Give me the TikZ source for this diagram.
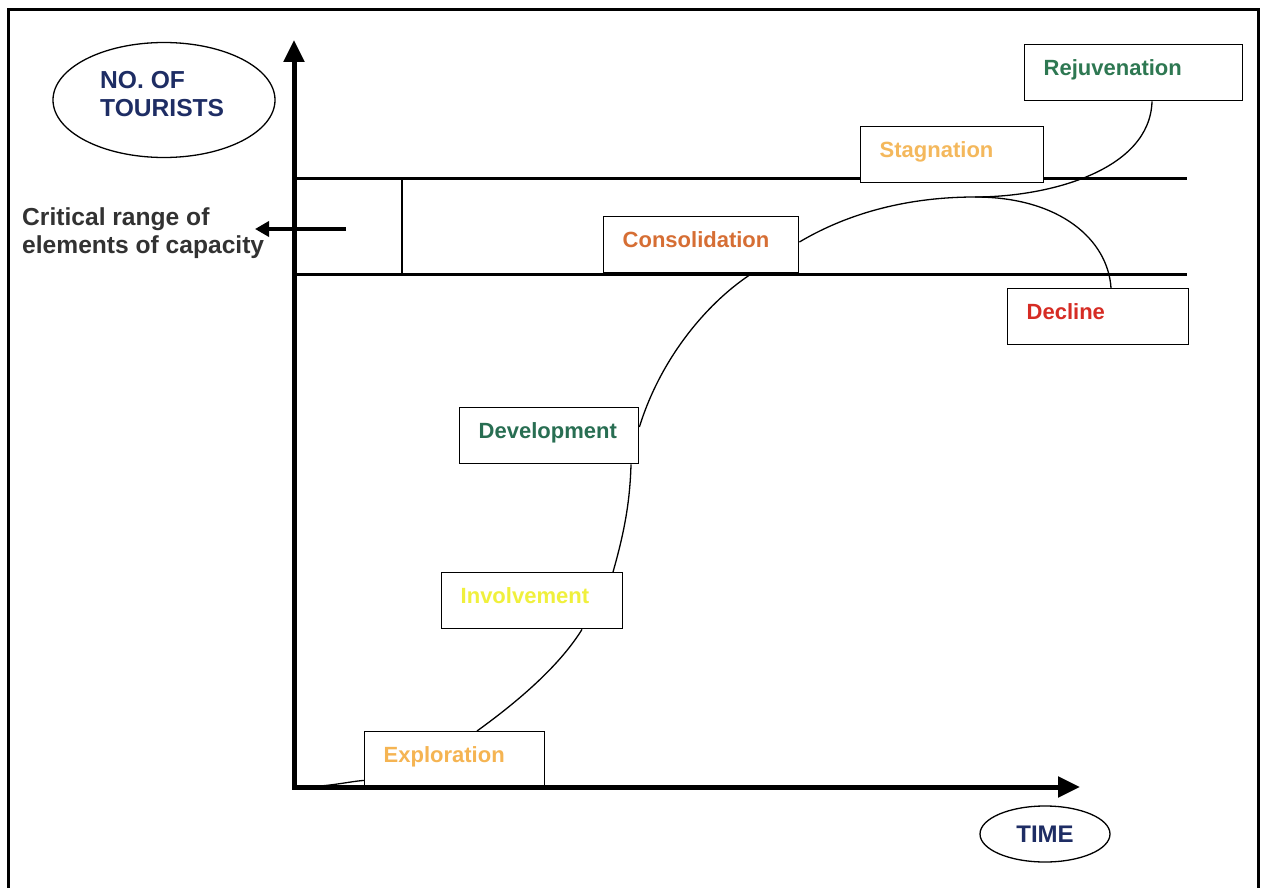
\documentclass[tikz,border=0pt]{standalone}
\usepackage{fontspec}
\setmainfont{Liberation Sans}
\usetikzlibrary{shapes.geometric,arrows.meta,calc}
\definecolor{navy}{RGB}{30,45,100}
\definecolor{txtgray}{RGB}{50,50,50}
\definecolor{cRejuv}{RGB}{46,120,82}
\definecolor{cStag}{RGB}{244,184,92}
\definecolor{cConsol}{RGB}{214,110,52}
\definecolor{cDecl}{RGB}{214,44,36}
\definecolor{cDevel}{RGB}{40,110,82}
\definecolor{cInvol}{RGB}{240,240,60}
\definecolor{cExplo}{RGB}{245,180,82}
\begin{document}
\begin{tikzpicture}[x=1pt,y=-1pt,
  stagebox/.style={draw, line width=1.4pt, fill=white, anchor=north west,
    inner xsep=19pt, inner ysep=0pt, text height=31pt, text depth=25pt,
    align=left, font=\fontsize{22}{26}\selectfont\bfseries},
  bigtext/.style={font=\fontsize{24.6}{28}\selectfont\bfseries, inner sep=0pt, align=left},
  oval/.style={draw, ellipse, line width=1.3pt, inner sep=0pt},
  curve/.style={line width=1.3pt}
]
\useasboundingbox (0,0) rectangle (1266,888);

% outer frame
\draw[line width=3pt] (8,890) -- (8,10) -- (1258,10) -- (1258,890);

% capacity range lines
\coordinate (ua) at (294,178);
\coordinate (ub) at (1187,178);
\coordinate (la) at (294,274);
\coordinate (lb) at (1187,274);
\coordinate (va) at (402,178);
\coordinate (vb) at (402,274);
\draw[line width=3pt] (ua) -- (ub);
\draw[line width=3pt] (la) -- (lb);
\draw[line width=1.3pt] (va) -- (vb);

% labels at left
\node[oval, minimum width=222pt, minimum height=115pt] (tourell) at (164,100) {};
\node[bigtext, text=navy, anchor=west] (tourtxt) at (100,94) {NO. OF\\TOURISTS};
\node[bigtext, text=txtgray, anchor=west] (crit) at (22,233) {Critical range of\\elements of capacity};
\coordinate (arrtail) at (346,229);
\coordinate (arrtip) at (255,229);
\draw[line width=4pt, -{Triangle[width=15pt,length=14pt]}] (arrtail) -- (arrtip);

% stage boxes
\node[stagebox, text width=180pt, text=cRejuv] (rejuv) at (1024,44) {Rejuvenation};
\node[stagebox, text width=145pt, text=cStag] (stag) at (860,126) {Stagnation};
\node[stagebox, text width=157pt, text=cConsol] (consol) at (603,216) {Consolidation};
\node[stagebox, text width=143pt, text=cDecl] (decl) at (1007,288) {Decline};
\node[stagebox, text width=141pt, text=cDevel] (devel) at (459,407) {Development};
\node[stagebox, text width=143pt, text=cInvol] (invol) at (441,572) {Involvement};
\node[stagebox, text width=142pt, text=cExplo] (explo) at (364,731) {Exploration};

% the life-cycle curve
\coordinate (O) at (294,787);
\coordinate (peak) at (975,197);
\draw[curve] (O) .. controls (330,787) and (345,782) .. ($(explo.south west)+(0,-8)$);
\draw[curve] ($(explo.north west)+(113,0)$) .. controls (520,700) and (560,665) .. ($(invol.south west)+(141,0)$);
\draw[curve] ($(invol.north west)+(172,0)$) .. controls (625,530) and (630,500) .. ($(devel.south west)+(172,0)$);
\draw[curve] ($(devel.north east)+(0,20)$) .. controls (660,360) and (705,305) .. ($(consol.south west)+(146,2)$);
\draw[curve] ($(consol.north east)+(0,26)$) .. controls (850,212) and (910,197) .. (peak)
   .. controls (1050,197) and (1150,170) .. ($(rejuv.south west)+(128,0)$);
\draw[curve] (peak) .. controls (1060,197) and (1108,240) .. ($(decl.north west)+(104,0)$);

% axes
\coordinate (xtip) at (1080,787);
\coordinate (ytip) at (294,40);
\draw[line width=5pt, line join=miter, {Triangle[width=20pt,length=22pt]}-{Triangle[width=20pt,length=22pt]}] (xtip) -- (O) -- (ytip);

% time label
\node[oval, minimum width=130pt, minimum height=56pt, text=navy,
      font=\fontsize{24}{28}\selectfont\bfseries] (time) at (1045,834) {TIME};
\end{tikzpicture}
\end{document}
